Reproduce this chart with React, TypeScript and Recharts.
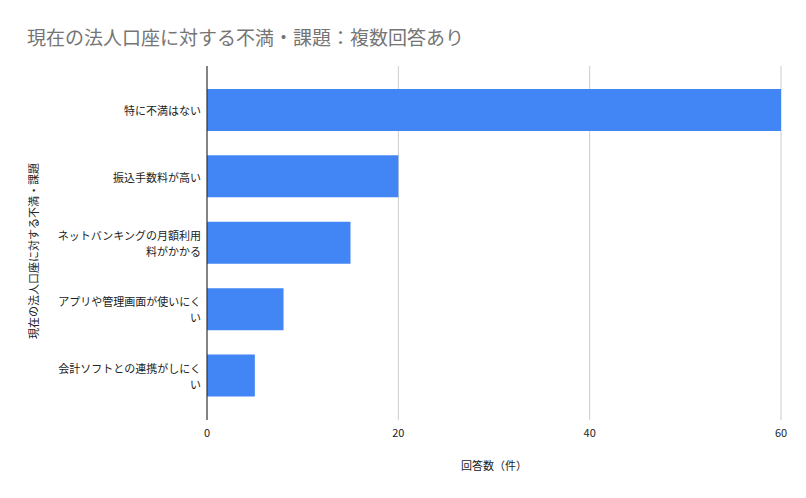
import React from 'react';
import { BarChart, Bar, XAxis, YAxis, CartesianGrid, Label } from 'recharts';

const categories = [
  '特に不満はない',
  '振込手数料が高い',
  'ネットバンキングの月額利用料がかかる',
  'アプリや管理画面が使いにくい',
  '会計ソフトとの連携がしにくい',
];
const counts = [60, 20, 15, 8, 5];
const xTicks = [0, 20, 40, 60];

const data = categories.map((name, i) => ({ name, count: counts[i] }));

const FONT = '"Noto Sans CJK JP", "Noto Sans", Arial, sans-serif';

// wrap long labels every 13 chars like the original
const CategoryTick = (props: any) => {
  const { x, y, payload } = props;
  const text: string = payload.value;
  const lines: string[] = [];
  for (let i = 0; i < text.length; i += 13) lines.push(text.slice(i, i + 13));
  const lh = 16;
  const startY = y - ((lines.length - 1) * lh) / 2;
  return (
    <g>
      {lines.map((l, i) => (
        <text key={i} x={x} y={startY + i * lh} textAnchor="end" fontSize={11} fill="#222" fontFamily={FONT} dominantBaseline="central">
          {l}
        </text>
      ))}
    </g>
  );
};

const App: React.FC = () => {
  return (
    <div style={{ position: 'absolute', left: 0, top: 0, width: 806, height: 498, background: '#fff', fontFamily: FONT }}>
      <div style={{ position: 'absolute', left: 27, top: 23, fontSize: 19, color: '#757575', whiteSpace: 'nowrap', lineHeight: '28px' }}>
        現在の法人口座に対する不満・課題：複数回答あり
      </div>
      <BarChart
        width={806}
        height={498}
        data={data}
        layout="vertical"
        margin={{ top: 66, right: 25, bottom: 18, left: 0 }}
        barCategoryGap="18%"
      >
        <CartesianGrid horizontal={false} stroke="#cccccc" />
        <XAxis
          type="number"
          domain={[0, 60]}
          ticks={xTicks}
          axisLine={false}
          tickLine={false}
          height={60}
          tick={{ fontSize: 11, fill: '#222', fontFamily: FONT }}
          tickMargin={3}
        >
          <Label value="回答数（件）" position="insideBottom" offset={10} fontSize={11} fill="#222" fontFamily={FONT} />
        </XAxis>
        <YAxis
          type="category"
          dataKey="name"
          width={207}
          axisLine={{ stroke: '#222' }}
          tickLine={false}
          tick={<CategoryTick />}
          tickMargin={0}
          padding={{ top: 11, bottom: 11 }}
        >
          <Label value="現在の法人口座に対する不満・課題" angle={-90} position="insideLeft" offset={34} dy={8} fontSize={11} fill="#222" fontFamily={FONT} style={{ textAnchor: 'middle' }} />
        </YAxis>
        <Bar dataKey="count" fill="#4285f4" isAnimationActive={false} />
      </BarChart>
    </div>
  );
};

export default App;
